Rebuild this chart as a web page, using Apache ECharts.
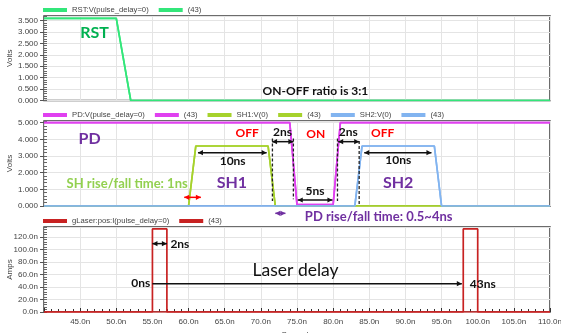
<!DOCTYPE html>
<html><head><meta charset="utf-8">
<script src="https://cdn.jsdelivr.net/npm/echarts@6/dist/echarts.min.js"></script>
<style>html,body{margin:0;padding:0;background:#fff}#c{width:561px;height:333px}</style>
</head><body><div id="c"></div>
<script>
// ---- data (time in ns) ----
const rstT = [40, 50, 52, 110];
const rstV = [3.6, 3.6, 0, 0];
const pdT = [40, 74, 75, 80, 81, 110];
const pdV = [5, 5, 0.08, 0.08, 5, 5];
const sh1T = [40, 60, 61, 71, 72, 110];
const sh1V = [0, 0, 3.6, 3.6, 0, 0];
const sh2T = [40, 83, 84, 94, 95, 110];
const sh2V = [0, 0, 3.6, 3.6, 0, 0];
const las0T = [40, 55, 55, 57, 57, 110];
const las0I = [0, 0, 133, 133, 0, 0];
const las43T = [40, 98, 98, 100, 100, 110];
const las43I = [0, 0, 133, 133, 0, 0];
const legendNames1 = ['RST:V(pulse_delay=0)', 'RST (43)'];
const legendNames2 = ['PD:V(pulse_delay=0)', 'PD (43)', 'SH1:V(0)', 'SH1 (43)', 'SH2:V(0)', 'SH2 (43)'];
const legendNames3 = ['gLaser:pos:I(pulse_delay=0)', 'gLaser (43)'];

// annotation anchors in data units [grid, text, x(ns), y]
const texts = [
  [0, 'RST', 47.0, 2.97],
  [0, 'ON-OFF ratio is 3:1', 77.55, 0.43],
  [1, 'PD', 46.3, 4.02],
  [1, 'OFF', 68.1, 4.38],
  [1, '2ns', 73.0, 4.46],
  [1, 'ON', 77.6, 4.32],
  [1, '2ns', 82.1, 4.46],
  [1, 'OFF', 86.85, 4.36],
  [1, '10ns', 66.1, 2.7],
  [1, '10ns', 89.0, 2.76],
  [1, 'SH1', 66.0, 1.36],
  [1, 'SH2', 89.0, 1.36],
  [1, '5ns', 77.5, 0.9],
  [1, 'SH rise/fall time: 1ns', 51.5, 1.31],
  [1, 'PD rise/fall time: 0.5~4ns', 86.3, -0.62],
  [2, '2ns', 58.8, 109.4],
  [2, '0ns', 53.4, 45.9],
  [2, '43ns', 100.7, 45.2],
  [2, 'Laser delay', 74.8, 66.7]
];
const arrows = [ // grid, x1, x2, y, heads(1 end,2 both)
  [1, 61.3, 70.8, 3.2, 2],
  [1, 84.3, 93.6, 3.2, 2],
  [1, 71.55, 74.5, 3.86, 2],
  [1, 80.7, 83.6, 3.86, 2],
  [1, 75.1, 79.9, 0.36, 2],
  [1, 59.4, 61.7, 0.52, 2],
  [1, 72.0, 73.4, -0.44, 2],
  [2, 55, 57, 109.4, 2],
  [2, 55, 97.8, 45.4, 1]
];
const dashes = [ // grid, x, y1, y2
  [1, 71.6, 4.05, 0.3],
  [1, 74.5, 4.05, 0.4],
  [1, 80.6, 4.05, 0.3],
  [1, 83.6, 3.9, 0.0]
];

const zip = (a, b) => a.map((v, i) => [v, b[i]]);
const C = {rst:'#33e67a', pd:'#e040f0', sh1:'#a6d22c', sh2:'#82b4f0', las:'#c82222'};
const FONT = 'Liberation Sans';
const chart = echarts.init(document.getElementById('c'));

const gBase = {left:44, right:11, show:true, borderColor:'#3c3c3c', borderWidth:1.5, containLabel:false, outerBoundsMode:'none'};
const grids = [
  Object.assign({top:16, height:84.5}, gBase),
  Object.assign({top:121, height:85}, gBase),
  Object.assign({top:227, height:85}, gBase)
];
const yCfg = [
  {max:3.7, interval:0.5, minor:0.1, fmt:v=>v.toFixed(3), name:'Volts'},
  {max:5.1, interval:1, minor:0.2, fmt:v=>v.toFixed(3), name:'Volts'},
  {max:136, interval:20, minor:4, fmt:v=>v.toFixed(1)+'n', name:'Amps'}
];
const xAxes = [0,1,2].map(g => ({
  gridIndex:g, type:'value', min:40, max:110, interval:5,
  axisLine:{show:false},
  axisTick:{show:g===2, inside:true, length:4, lineStyle:{color:'#333'}},
  minorTick:{show:g===2, splitNumber:5, length:3, lineStyle:{color:'#333'}},
  splitLine:{show:true, lineStyle:{color:'#e4e4e4', width:1}},
  axisLabel:{show:g===2, showMinLabel:false, showMaxLabel:true, hideOverlap:false, formatter:v=>v.toFixed(1)+'n', fontSize:8, color:'#444', fontFamily:FONT, margin:6},
  name: g===2 ? 'Seconds' : '', nameLocation:'middle', nameGap:19, nameMoveOverlap:false,
  nameTextStyle:{fontSize:8, color:'#444', fontFamily:FONT}
}));
const yAxes = [];
yCfg.forEach((c, g) => {
  yAxes.push({gridIndex:g, type:'value', position:'left', min:0, max:c.max, interval:c.interval,
    axisLine:{show:false},
    axisTick:{show:true, inside:false, length:4, lineStyle:{color:'#555'}},
    splitLine:{show:true, lineStyle:{color:'#e4e4e4', width:1}},
    axisLabel:{showMaxLabel:false, formatter:c.fmt, fontSize:8, color:'#444', fontFamily:FONT, margin:6},
    name:c.name, nameLocation:'middle', nameGap:30, nameMoveOverlap:false,
    nameTextStyle:{fontSize:8, color:'#444', fontFamily:FONT}});
});
yCfg.forEach((c, g) => {
  yAxes.push({gridIndex:g, type:'value', position:'left', min:0, max:c.max, interval:c.minor,
    axisLine:{show:false}, axisLabel:{show:false}, splitLine:{show:false},
    axisTick:{show:true, inside:true, length:3, lineStyle:{color:'#666'}}});
});
const line = (name, g, T, V, color) => ({
  name, type:'line', xAxisIndex:g, yAxisIndex:g, data:zip(T, V), symbol:'none',
  lineStyle:{width:1.7, color}, itemStyle:{color}, animation:false, silent:true
});
const series = [
  line('RST:V(pulse_delay=0)', 0, rstT, rstV, C.rst),
  line('RST (43)', 0, rstT, rstV, C.rst),
  line('PD:V(pulse_delay=0)', 1, pdT, pdV, C.pd),
  line('PD (43)', 1, pdT, pdV, C.pd),
  line('SH1:V(0)', 1, sh1T, sh1V, C.sh1),
  line('SH1 (43)', 1, sh1T, sh1V, C.sh1),
  line('SH2:V(0)', 1, sh2T, sh2V, C.sh2),
  line('SH2 (43)', 1, sh2T, sh2V, C.sh2),
  line('gLaser:pos:I(pulse_delay=0)', 2, las0T, las0I, C.las),
  line('gLaser (43)', 2, las43T, las43I, C.las)
];
const lg = (data, top) => ({data, left:43, top, icon:'rect', itemWidth:24, itemHeight:4, itemGap:10,
  selectedMode:false, padding:0,
  formatter:n => n.endsWith('(43)') ? '(43)' : n,
  textStyle:{fontSize:7.7, color:'#444', fontFamily:FONT}});
chart.setOption({
  animation:false, backgroundColor:'#fff',
  grid:grids, xAxis:xAxes, yAxis:yAxes, series,
  legend:[lg(legendNames1, 6), lg(legendNames2, 111), lg(legendNames3, 217)]
});

// ---- annotations anchored to data coordinates ----
const styleOf = {
  'RST':{c:'#00b050', f:'bold 16px Lato'},
  'ON-OFF ratio is 3:1':{c:'#111', f:'bold 12px Lato'},
  'PD':{c:'#7030a0', f:'bold 16px Lato'},
  'OFF':{c:'#ff0000', f:'bold 12px Lato'},
  'ON':{c:'#ff0000', f:'bold 12px Lato'},
  'SH1':{c:'#7030a0', f:'bold 16px Lato'},
  'SH2':{c:'#7030a0', f:'bold 16px Lato'},
  'SH rise/fall time: 1ns':{c:'#92d050', f:'bold 13px Lato'},
  'PD rise/fall time: 0.5~4ns':{c:'#7030a0', f:'bold 13px Lato'},
  'Laser delay':{c:'#111', f:'17.5px Lato'}
};
const P = (g, x, y) => chart.convertToPixel({gridIndex:g}, [x, y]);
const els = [];
texts.forEach(([g, t, x, y]) => {
  const p = P(g, x, y);
  const s = styleOf[t] || {c:'#111', f:'bold 12px Lato'};
  els.push({type:'text', x:p[0], y:p[1], z:100, style:{text:t, fill:s.c, font:s.f, align:'center', verticalAlign:'middle'}});
});
function head(x, y, dir, color) {
  const L = 5, W = 2.6;
  return {type:'polygon', z:100, shape:{points:[[x, y], [x - dir*L, y - W], [x - dir*L, y + W]]}, style:{fill:color}};
}
arrows.forEach(([g, x1, x2, y, h]) => {
  const a = P(g, x1, y), b = P(g, x2, y);
  let color = '#111';
  if (g === 1 && x1 > 59 && x1 < 60) color = '#ff0000';
  if (g === 1 && y < 0) color = '#7030a0';
  els.push({type:'line', z:100, shape:{x1:a[0], y1:a[1], x2:b[0], y2:b[1]}, style:{stroke:color, lineWidth:1.5}});
  els.push(head(b[0], b[1], 1, color));
  if (h === 2) els.push(head(a[0], a[1], -1, color));
});
dashes.forEach(([g, x, y1, y2]) => {
  const a = P(g, x, y1), b = P(g, x, y2);
  els.push({type:'line', z:100, shape:{x1:a[0], y1:a[1], x2:b[0], y2:b[1]}, style:{stroke:'#222', lineWidth:1.3, lineDash:[3, 2]}});
});
chart.setOption({graphic:{elements:els}});
</script></body></html>
